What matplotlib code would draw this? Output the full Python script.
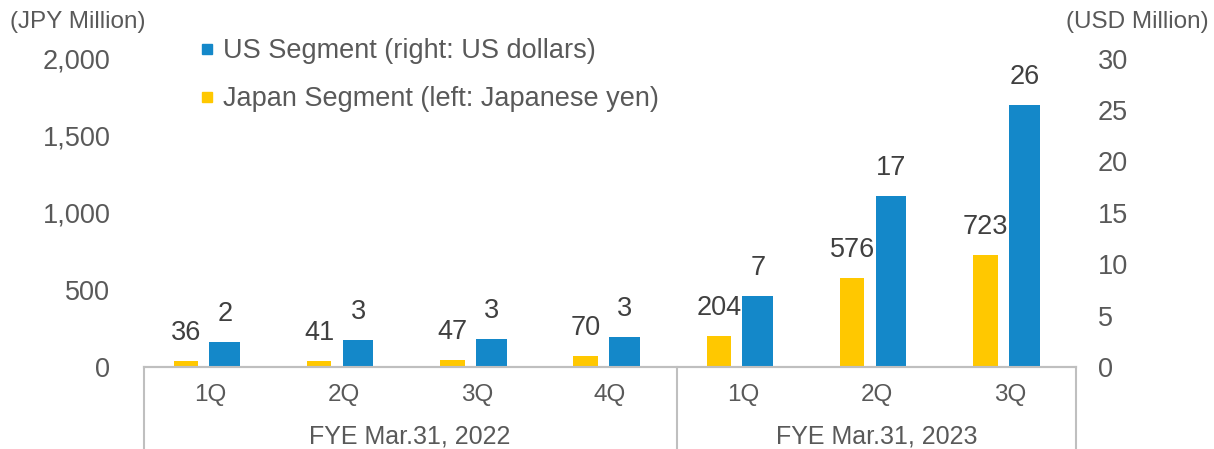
import matplotlib
matplotlib.use("Agg")
import matplotlib.pyplot as plt
from matplotlib.lines import Line2D

plt.rcParams['font.family'] = ['Liberation Sans', 'DejaVu Sans']

quarters = ["1Q", "2Q", "3Q", "4Q", "1Q", "2Q", "3Q"]
fiscal_years = ["FYE Mar.31, 2022", "FYE Mar.31, 2023"]
fy_sizes = [4, 3]
japan_jpy = [36, 41, 47, 70, 204, 576, 723]
us_usd = [2.4, 2.6, 2.7, 2.9, 6.9, 16.6, 25.5]
left_ticks = [0, 500, 1000, 1500, 2000]
right_ticks = [0, 5, 10, 15, 20, 25, 30]

BLUE = "#1488C9"
YELLOW = "#FFC800"
TICK_C = "#595959"
LABEL_C = "#404040"
GRID_C = "#BFBFBF"

fig = plt.figure(figsize=(12.14, 4.49), dpi=100)
ax = fig.add_axes([0.1183, 0.1826, 0.7684, 0.6871])
ax2 = ax.twinx()

x = list(range(len(quarters)))
yb = ax.bar([i - 0.183 for i in x], japan_jpy, width=0.185, color=YELLOW, zorder=2)
ub = ax2.bar([i + 0.109 for i in x], us_usd, width=0.23, color=BLUE, zorder=2)

ax.set_xlim(-0.5, len(quarters) - 0.5)
ax.set_ylim(0, 2000)
ax2.set_ylim(0, 30)
ax.set_yticks(left_ticks)
ax.set_yticklabels([f"{v:,}" for v in left_ticks])
ax2.set_yticks(right_ticks)
ax2.set_yticklabels([str(v) for v in right_ticks])
ax.set_xticks([])
for a in (ax, ax2):
    for s in ("top", "right", "left"):
        a.spines[s].set_visible(False)
    a.spines["bottom"].set_color(GRID_C)
    a.spines["bottom"].set_linewidth(1.5)
ax.tick_params(axis="y", length=0, pad=24, labelsize=19.5, labelcolor=TICK_C)
ax2.tick_params(axis="y", length=0, pad=15.5, labelsize=19.5, labelcolor=TICK_C)

for rect, v in zip(yb, japan_jpy):
    ax.annotate(f"{v:,}", (rect.get_x() + rect.get_width() / 2, rect.get_height()),
                xytext=(0, 28), textcoords="offset pixels", ha="center", va="center",
                fontsize=19.5, color=LABEL_C)
for rect, v in zip(ub, us_usd):
    ax2.annotate(f"{v:.0f}", (rect.get_x() + rect.get_width() / 2, rect.get_height()),
                 xytext=(0, 28), textcoords="offset pixels", ha="center", va="center",
                 fontsize=19.5, color=LABEL_C)

tr = ax.get_xaxis_transform()
ax_h = 308.5
for i, q in enumerate(quarters):
    ax.text(i, -28 / ax_h, q, transform=tr, ha="center", va="center", fontsize=17.5, color=TICK_C)
start = -0.5
seps = [start]
for name, n in zip(fiscal_years, fy_sizes):
    ax.text(start + n / 2, -69 / ax_h, name, transform=tr, ha="center", va="center",
            fontsize=18, color=TICK_C)
    start += n
    seps.append(start)
for s in seps:
    ax.add_line(Line2D([s, s], [0, -83 / ax_h], transform=tr, color=GRID_C, lw=1.5, clip_on=False))

fig.text(78 / 1214, 1 - 22 / 449, "(JPY Million)", ha="center", va="center", fontsize=17.5, color=TICK_C)
fig.text(1137 / 1214, 1 - 22 / 449, "(USD Million)", ha="center", va="center", fontsize=17.5, color=TICK_C)

handles = [Line2D([], [], marker="s", ls="", color=BLUE, markersize=7.5),
           Line2D([], [], marker="s", ls="", color=YELLOW, markersize=7.5)]
fig.legend(handles, ["US Segment (right: US dollars)", "Japan Segment (left: Japanese yen)"],
           loc="upper left", bbox_to_anchor=(200 / 1214, 1 - 38 / 449), frameon=False,
           fontsize=19.5, labelcolor=TICK_C, handlelength=0.55, handletextpad=0.3,
           labelspacing=0.82, borderpad=0, borderaxespad=0)

fig.savefig("out.png", dpi=100)
